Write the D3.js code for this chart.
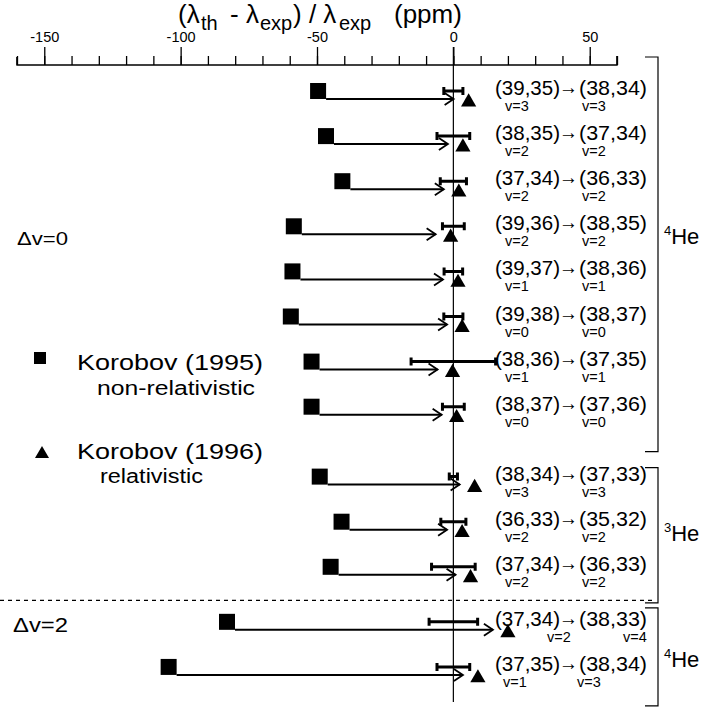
<!DOCTYPE html>
<html>
<head>
<meta charset="utf-8">
<script src="https://cdn.jsdelivr.net/npm/d3@7"></script>
<style>
  html, body { margin: 0; padding: 0; background: #fff; }
  svg { display: block; font-family: "Liberation Sans", Arial, Helvetica, sans-serif; }
</style>
</head>
<body>
<svg id="chart" width="707" height="711"></svg>
<script>
// ---------------- data ----------------
const fromState = ["(39,35)", "(38,35)", "(37,34)", "(39,36)", "(39,37)", "(39,38)", "(38,36)", "(38,37)", "(38,34)", "(36,33)", "(37,34)", "(37,34)", "(37,35)"];
const toState   = ["(38,34)", "(37,34)", "(36,33)", "(38,35)", "(38,36)", "(38,37)", "(37,35)", "(37,36)", "(37,33)", "(35,32)", "(36,33)", "(38,33)", "(38,34)"];
const vFrom = ["3", "2", "2", "2", "1", "0", "1", "0", "3", "2", "2", "2", "1"];
const vTo   = ["3", "2", "2", "2", "1", "0", "1", "0", "3", "2", "2", "4", "3"];
const groupOf = [0, 0, 0, 0, 0, 0, 0, 0, 1, 1, 1, 2, 2];
const groupMass = ["4", "3", "4"];
// Korobov (1995) non-relativistic (ppm)
const nonRel = [-49.6, -46.7, -40.7, -58.5, -59.0, -59.6, -52.0, -52.0, -49.0, -41.0, -45.0, -83.0, -104.4];
// Korobov (1996) relativistic (ppm)
const rel = [5.6, 3.5, 2.0, -1.0, 1.7, 3.2, -0.3, 1.2, 7.8, 3.2, 6.3, 20.0, 9.0];
// experimental uncertainty (half width, ppm)
const expErr = [3.5, 6.0, 4.8, 4.0, 3.4, 3.5, 15.5, 4.0, 1.5, 4.6, 8.0, 8.9, 6.0];
const majorTicks = [-150, -100, -50, 0, 50];
const minorTicks = d3.range(-160, 61, 10);
const deltaV = ["\u0394v=0", "\u0394v=2"];
const legendNames = ["Korobov (1995)", "Korobov (1996)"];
const legendSub = ["non-relativistic", "relativistic"];

// ---------------- layout ----------------
const svg = d3.select("#chart");
const x = d3.scaleLinear().domain([-160, 60]).range([17, 617]);
const axisY = 65;
const groupGapSlots = [0, 0.55, 0.22]; // extra vertical space before each group
const slot = i => {
  let s = i;
  for (let g = 1; g <= groupOf[i]; g++) s += groupGapSlots[g];
  return s;
};
const y = d3.scaleLinear().domain([0, 1]).range([91, 136.1]);
const rows = fromState.map((f, i) => ({
  i, f, t: toState[i], vf: vFrom[i], vt: vTo[i], g: groupOf[i],
  nr: nonRel[i], r: rel[i], e: expErr[i], cy: y(slot(i))
}));

// ---------------- axis ----------------
const minorAxis = d3.axisTop(x).tickValues(minorTicks).tickSize(9).tickFormat("");
const majorAxis = d3.axisTop(x).tickValues(majorTicks).tickSize(18).tickPadding(5)
  .tickFormat(d => d < 0 ? "-" + Math.abs(d) : String(d));
const gMinor = svg.append("g").attr("transform", `translate(0,${axisY})`).call(minorAxis);
const gMajor = svg.append("g").attr("transform", `translate(0,${axisY})`).call(majorAxis);
[gMinor, gMajor].forEach(g => {
  g.select(".domain").attr("stroke", "#000").attr("stroke-width", 1.2)
    .attr("d", `M${x(-160)},-8V0H${x(60)}V-9`);
  g.selectAll(".tick line").attr("stroke", "#000").attr("stroke-width", 1.3);
});
gMajor.selectAll(".tick text").attr("font-size", 14.5).attr("fill", "#000")
  .attr("font-family", "Liberation Sans, Arial, sans-serif");

// axis title
const titleY = 23;
const title = svg.append("text").attr("y", titleY).attr("fill", "#000");
const titleParts = [
  ["(\u03BB", 178, 0, 26], ["th", 201, 7, 20], ["- \u03BB", 230, 0, 26], ["exp", 260, 7, 20],
  [") / \u03BB", 293, 0, 26], ["exp", 339, 7, 20], ["(ppm)", 394, 0, 26]
];
titleParts.forEach(p => {
  title.append("tspan").attr("x", p[1]).attr("y", titleY + p[2]).attr("font-size", p[3]).text(p[0]);
});

// zero line
svg.append("line").attr("x1", x(0)).attr("x2", x(0)).attr("y1", axisY - 18).attr("y2", 702)
  .attr("stroke", "#000").attr("stroke-width", 1.2);

// dashed separator
const sepY = (rows[10].cy + rows[11].cy) / 2 + 6;
svg.append("line").attr("x1", 0).attr("x2", 656).attr("y1", sepY).attr("y2", sepY)
  .attr("stroke", "#000").attr("stroke-width", 1.2).attr("stroke-dasharray", "4,4");

// ---------------- marks ----------------
const sq = 16;
const gRows = svg.append("g").selectAll("g").data(rows).join("g");

// arrows (non-rel -> rel)
gRows.append("path")
  .attr("d", d => {
    const x0 = x(d.nr) + sq / 2, x1 = x(d.r) - 15, yy = d.cy + 8;
    return `M${x0},${yy}H${x1}`;
  })
  .attr("stroke", "#000").attr("stroke-width", 2).attr("fill", "none");
gRows.append("path")
  .attr("d", d => {
    const x1 = x(d.r) - 15, yy = d.cy + 8;
    return `M${x1 - 9},${yy - 6}L${x1},${yy}L${x1 - 9},${yy + 6}`;
  })
  .attr("stroke", "#000").attr("stroke-width", 1.8).attr("fill", "none");

// squares
gRows.append("rect")
  .attr("x", d => x(d.nr) - sq / 2).attr("y", d => d.cy - sq / 2)
  .attr("width", sq).attr("height", sq).attr("fill", "#000");

// error bars (experiment, centered on 0)
gRows.append("path")
  .attr("d", d => {
    const a = x(-d.e), b = x(d.e), yy = d.cy;
    return `M${a},${yy}H${b}M${a},${yy - 4}V${yy + 4}M${b},${yy - 4}V${yy + 4}`;
  })
  .attr("stroke", "#000").attr("stroke-width", 3).attr("fill", "none");

// triangles
const tri = d3.symbol().type(d3.symbolTriangle).size(100);
gRows.append("path")
  .attr("d", tri)
  .attr("transform", d => `translate(${x(d.r)},${d.cy + 11})`)
  .attr("fill", "#000");

// transition labels
const lx = 495;
gRows.each(function(d) {
  const g = d3.select(this);
  const base = d.cy + 4;
  g.append("text").attr("x", lx).attr("y", base).attr("font-size", 20.5)
    .attr("textLength", 65).attr("lengthAdjust", "spacingAndGlyphs").text(d.f);
  g.append("text").attr("x", lx + 64).attr("y", base - 1).attr("font-size", 20.5)
    .attr("textLength", 19).attr("lengthAdjust", "spacingAndGlyphs").text("\u2192");
  g.append("text").attr("x", lx + 84).attr("y", base).attr("font-size", 20.5)
    .attr("textLength", 68).attr("lengthAdjust", "spacingAndGlyphs").text(d.t);
  const fs = 14.5;
  let p1 = lx + 10, p2 = lx + 87;
  if (d.i === 11) { p1 = lx + 52; p2 = lx + 128; }
  else if (d.i === 12) { p1 = lx + 8; p2 = lx + 82; }
  g.append("text").attr("x", p1).attr("y", d.cy + 20).attr("font-size", fs).text("v=" + d.vf);
  g.append("text").attr("x", p2).attr("y", d.cy + 20).attr("font-size", fs).text("v=" + d.vt);
});

// group brackets
const bx = 658;
const groupExtents = [0, 1, 2].map(g => {
  const rs = rows.filter(r => r.g === g);
  return [rs[0].cy, rs[rs.length - 1].cy];
});
const bracketPad = [[-34, 45], [-9, 36], [-14, 39]];
const labelShift = [-10, 6, 10];
groupExtents.forEach((ext, g) => {
  const y0 = ext[0] + bracketPad[g][0], y1 = ext[1] + bracketPad[g][1];
  svg.append("path").attr("d", `M${bx - 13},${y0}H${bx}V${y1}H${bx - 13}`)
    .attr("stroke", "#000").attr("stroke-width", 1.2).attr("fill", "none");
  const t = svg.append("text").attr("x", bx + 6).attr("y", (y0 + y1) / 2 + labelShift[g])
    .attr("font-size", 22).attr("fill", "#000");
  t.append("tspan").attr("font-size", 13).attr("dy", -9).text(groupMass[g]);
  t.append("tspan").attr("dy", 9).text("He");
});

// Δv labels
svg.append("text").attr("x", 17).attr("y", 245).attr("font-size", 18)
  .attr("textLength", 51).attr("lengthAdjust", "spacingAndGlyphs").text(deltaV[0]);
svg.append("text").attr("x", 13).attr("y", 632).attr("font-size", 20)
  .attr("textLength", 55).attr("lengthAdjust", "spacingAndGlyphs").text(deltaV[1]);

// legend
svg.append("rect").attr("x", 34).attr("y", 352).attr("width", 12).attr("height", 12).attr("fill", "#000");
svg.append("text").attr("x", 77).attr("y", 370).attr("font-size", 22.5)
  .attr("textLength", 186).attr("lengthAdjust", "spacingAndGlyphs").text(legendNames[0]);
svg.append("text").attr("x", 97).attr("y", 395).attr("font-size", 19.5)
  .attr("textLength", 158).attr("lengthAdjust", "spacingAndGlyphs").text(legendSub[0]);
svg.append("path").attr("d", d3.symbol().type(d3.symbolTriangle).size(85)).attr("transform", "translate(42,454)").attr("fill", "#000");
svg.append("text").attr("x", 77).attr("y", 459).attr("font-size", 22.5)
  .attr("textLength", 186).attr("lengthAdjust", "spacingAndGlyphs").text(legendNames[1]);
svg.append("text").attr("x", 100).attr("y", 483).attr("font-size", 19.5)
  .attr("textLength", 103).attr("lengthAdjust", "spacingAndGlyphs").text(legendSub[1]);
</script>
</body>
</html>
